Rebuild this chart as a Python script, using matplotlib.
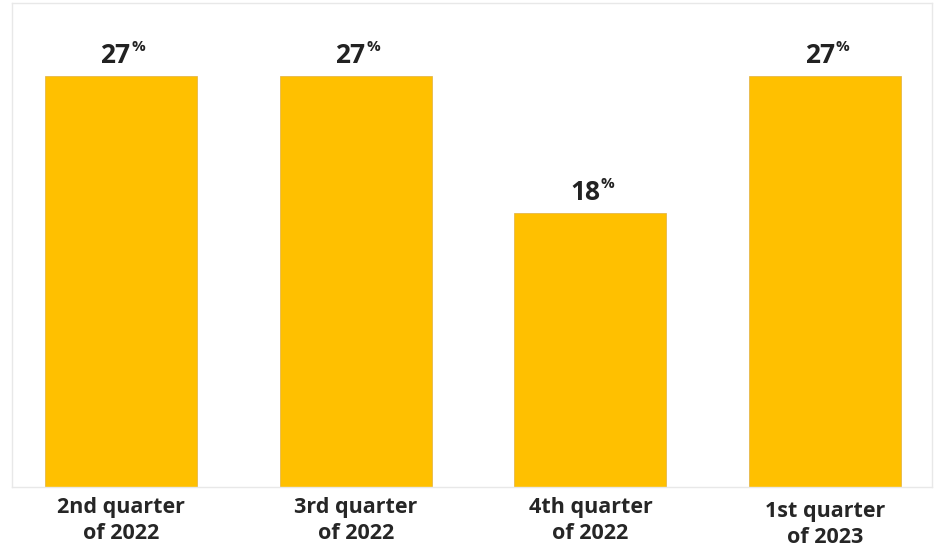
import matplotlib.pyplot as plt

# Share of respondents per quarter
quarters = ['2nd quarter\nof 2022', '3rd quarter\nof 2022', '4th quarter\nof 2022', '1st quarter\nof 2023']
shares = [27, 27, 18, 27]

plt.rcParams['font.family'] = ['Open Sans', 'DejaVu Sans']

fig = plt.figure(figsize=(9.36, 5.47), dpi=100)
ax = fig.add_axes([12 / 936, 1 - 487 / 547, 920 / 936, 484 / 547])

x = range(len(shares))
bars = ax.bar(x, shares, width=0.647, color='#FFC000', edgecolor='#E0B040', linewidth=0.5)

# value labels with a raised percent sign
for xi, v in zip(x, shares):
    ax.annotate(f'{v}', (xi, v), xytext=(7, 5), textcoords='offset points',
                ha='right', va='bottom', fontsize=19, fontweight='bold', color='#222222')
    ax.annotate('%', (xi, v), xytext=(7.5, 16), textcoords='offset points',
                ha='left', va='bottom', fontsize=11, fontweight='bold', color='#222222')

ax.set_xlim(-0.464, 3.455)
ax.set_ylim(0, 31.8)
ax.set_yticks([])
ax.set_xticks(list(x))
ax.set_xticklabels(quarters, fontsize=15.5, fontweight='bold', color='#262626', linespacing=1.32)
ax.tick_params(axis='x', length=0, pad=7)
ax.xaxis.get_major_ticks()[3].set_pad(10)

for s in ax.spines.values():
    s.set_color('#E8E8E8')
    s.set_linewidth(1)

fig.savefig('out.png', dpi=100)
